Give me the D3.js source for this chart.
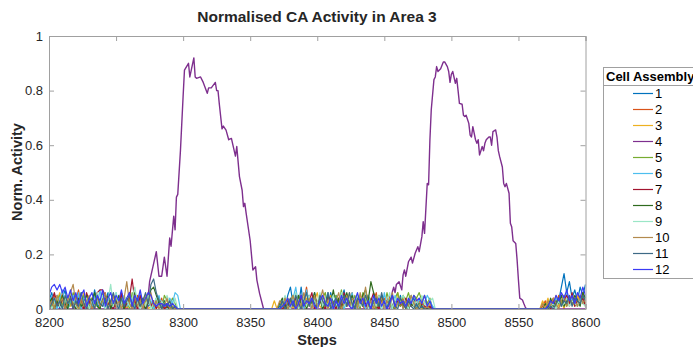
<!DOCTYPE html>
<html>
<head>
<meta charset="utf-8">
<script src="https://cdn.jsdelivr.net/npm/d3@7"></script>
<style>
  body { margin: 0; background: #fff; }
  svg { font-family: "Liberation Sans", Arial, Helvetica, sans-serif; }
</style>
</head>
<body>
<div id="chart"></div>
<script>
// noisy assemblies are active only inside these step windows (every 2 steps), 0 elsewhere
const windows = [[8200, 8298], [8366, 8488], [8568, 8600]];
const xTicks = [8200, 8250, 8300, 8350, 8400, 8450, 8500, 8550, 8600];
const yTicks = [0, 0.2, 0.4, 0.6, 0.8, 1];
const names = ["1", "2", "3", "4", "5", "6", "7", "8", "9", "10", "11", "12"];
const colors = ["#0072BD", "#D95319", "#EDB120", "#7E2F8E", "#77AC30", "#4DBEEE",
  "#A2142F", "#2F6B1E", "#9BE6C6", "#B38A4E", "#3D6A86", "#3A3AF5"];

// activity x100, one array per window
const ca1 = [
  [3,6,2,5,0, 4,7,1,3,0, 5,2,6,0,3, 4,1,7,2,0, 5,3,6,1,0, 4,2,5,3,0, 6,1,4,2,0, 3,5,1,2,0, 4,1,3,0,2, 1,0,0,0,0],
  [0,0,0,1, 3,0,5,8,2, 4,1,8,0,3, 5,2,6,0,4, 1,3,0,6,2, 5,0,3,7,1, 4,2,0,5,3, 1,6,2,0,4, 3,0,5,2,1, 4,0,3,2,5, 1,3,0,2,4, 1,2,0,1,0, 2,0,0],
  [0,0,1,3,2,4,3,8,13,6,10,4,7,3,8,5,9]];
const ca2 = [
  [2,0,5,3,1, 6,0,2,4,0, 3,7,1,0,5, 2,4,0,6,1, 3,0,4,2,5, 0,3,6,1,0, 4,2,0,5,3, 1,0,6,2,0, 3,1,4,0,2, 0,1,0,0,0],
  [0,0,0,0, 2,4,0,3,1, 5,2,0,3,8, 1,4,0,2,5, 3,0,6,1,2, 4,0,3,5,1, 2,6,0,3,4, 1,0,5,2,3, 6,0,2,4,1, 3,5,0,2,1, 4,0,3,1,2, 0,3,1,0,2, 0,0,0],
  [1,3,0,2,4,1,5,2,3,6,1,4,2,5,3,6,2]];
const ca3 = [
  [0,4,1,3,6, 2,0,5,1,3, 0,4,2,6,0, 1,3,0,5,2, 4,0,2,3,1, 5,0,3,2,0, 6,1,3,0,4, 2,5,0,1,3, 0,4,2,1,0, 3,0,1,0,0],
  [0,3,0,0, 1,0,4,2,0, 3,5,1,0,4, 2,0,3,6,1, 0,4,2,5,0, 3,1,0,4,2, 6,0,3,1,5, 2,0,4,3,0, 1,5,2,0,3, 4,1,0,6,2, 3,0,2,5,1, 4,2,0,3,1, 2,0,0],
  [3,1,4,0,2,5,1,3,0,4,2,3,1,5,2,3,1]];
const ca5 = [
  [4,1,0,3,5, 1,4,0,2,6, 3,0,1,5,2, 0,4,3,1,0, 6,2,0,3,1, 4,0,5,2,3, 0,6,1,2,4, 0,3,5,1,0, 2,4,0,5,3, 1,4,2,0,0],
  [0,0,0,0, 0,2,0,3,5, 1,0,4,2,6, 3,0,5,1,2, 4,6,0,3,1, 5,2,7,0,4, 3,1,5,2,0, 6,3,1,4,2, 0,5,3,1,6, 2,0,4,6,1, 5,3,6,2,5, 4,6,3,5,2, 4,0,0],
  [0,0,2,1,3,0,4,2,5,1,3,2,4,1,3,5,2]];
const ca6 = [
  [1,5,3,0,4, 7,2,0,3,5, 1,6,0,4,2, 3,0,5,1,7, 2,0,4,3,1, 6,2,0,5,1, 3,4,0,2,6, 1,0,4,3,0, 2,5,1,3,0, 4,2,6,5,0],
  [0,0,0,0, 1,3,0,2,4, 8,1,3,0,7, 2,0,4,1,5, 0,3,6,2,0, 4,1,5,0,3, 2,6,1,0,4, 3,0,5,2,1, 4,2,0,6,1, 3,0,5,2,4, 0,3,1,5,2, 0,4,1,2,5, 3,1,0],
  [0,0,0,2,1,4,2,5,3,6,2,4,3,1,4,2,5]];
const ca7 = [
  [0,3,6,2,1, 4,0,3,5,0, 2,1,4,0,6, 3,0,2,6,7, 7,5,2,1,0, 3,1,6,0,2, 4,11,3,0,5, 2,0,4,1,3, 0,2,3,0,1, 0,0,0,0,0],
  [0,0,0,0, 0,1,3,0,2, 4,0,5,2,1, 3,6,0,2,4, 1,0,5,3,2, 0,4,1,6,2, 3,0,2,5,1, 4,2,0,3,6, 1,0,4,2,3, 5,1,0,3,2, 1,4,0,2,1, 3,0,2,1,0, 1,0,0],
  [0,0,1,0,3,2,4,1,3,5,2,6,1,3,2,4,1]];
const ca8 = [
  [2,4,0,3,1, 5,2,0,6,3, 0,4,1,2,5, 0,3,6,1,0, 4,2,5,0,3, 1,5,2,0,4, 3,0,6,2,1, 4,0,3,7,8, 5,2,0,3,1, 0,2,0,0,0],
  [0,0,0,2, 4,1,0,3,2, 0,5,1,4,0, 3,2,6,1,4, 0,3,5,2,7, 1,4,0,3,6, 2,5,1,4,3, 5,7,3,10,6, 3,1,4,2,0, 3,1,0,2,4, 1,3,0,2,1, 0,2,1,0,0, 0,0,0],
  [0,2,0,4,1,3,2,5,1,3,4,2,5,3,1,6,4]];
const ca9 = [
  [3,0,2,5,1, 0,4,2,6,3, 1,0,5,2,4, 0,3,1,6,2, 5,0,3,9,1, 6,0,2,5,3, 1,4,8,2,0, 3,1,5,0,2, 4,0,3,1,5, 2,0,4,0,0],
  [0,0,0,0, 2,5,1,0,3, 6,0,2,4,1, 5,0,3,2,6, 1,4,0,3,5, 2,0,6,1,3, 4,0,2,5,1, 3,6,0,2,4, 1,5,0,3,2, 6,0,4,1,3, 5,2,0,4,1, 3,0,5,2,1, 3,4,0],
  [0,0,0,1,2,0,3,1,2,4,1,3,2,1,3,2,1]];
const ca10 = [
  [1,3,0,5,2, 4,0,3,6,9, 2,0,4,1,3, 5,0,2,4,1, 3,6,0,2,5, 1,3,0,4,10, 2,0,5,1,3, 0,4,2,6,1, 3,0,2,1,4, 0,1,0,0,0],
  [0,0,0,3, 1,4,0,2,5, 0,3,1,6,2, 4,0,5,1,3, 7,2,0,4,1, 3,6,0,2,5, 1,4,3,0,6, 2,8,1,3,0, 5,2,4,0,3, 1,6,0,2,4, 0,3,1,5,2, 0,1,3,0,1, 0,0,0],
  [2,0,3,1,4,2,0,3,5,1,4,2,3,1,5,2,4]];
const ca11 = [
  [0,2,4,1,3, 0,5,2,4,0, 3,1,6,2,0, 4,3,0,5,2, 1,4,0,3,6, 2,0,4,1,3, 5,2,0,4,1, 3,6,2,9,11, 6,3,0,2,1, 3,0,1,0,0],
  [0,0,0,0, 3,0,2,4,1, 5,2,0,3,6, 1,4,2,0,5, 3,1,6,0,2, 4,0,3,5,1, 6,2,0,4,3, 1,5,2,0,3, 4,1,6,2,0, 3,5,1,0,4, 2,0,3,1,0, 2,0,1,0,0, 0,0,0],
  [0,0,0,1,0,2,4,1,3,2,5,1,4,3,2,5,3]];
const ca12 = [
  [5,8,9,7,9, 6,8,4,7,3, 6,2,5,7,1, 4,6,2,5,3, 7,1,4,6,2, 5,3,7,2,4, 6,1,5,3,7, 2,4,6,5,2, 1,2,2,1,2, 1,2,1,0,0],
  [0,0,0,0, 1,2,4,1,3, 0,2,5,1,3, 2,4,1,0,3, 5,2,1,4,0, 3,1,5,2,4, 1,0,3,6,2, 4,1,3,0,5, 2,4,1,3,0, 2,5,1,4,2, 3,1,4,2,5, 3,4,2,5,1, 3,0,0],
  [0,0,1,3,2,5,3,6,4,7,3,5,2,6,4,8,5]];

// assembly 4: two activity bursts
const ca4Steps = [8200, 8273, 8275, 8280, 8282, 8284, 8286, 8288, 8290, 8291, 8293, 8294, 8295, 8296, 8298,
  8300, 8301, 8304, 8305, 8308, 8309, 8310, 8313, 8315, 8318, 8319, 8321, 8324, 8325, 8326, 8327, 8329,
  8330, 8332, 8334, 8336, 8339, 8340, 8342, 8344, 8345, 8346, 8347, 8350, 8352, 8354, 8355, 8357, 8360,
  8454, 8456, 8457, 8458, 8459, 8461, 8463, 8464, 8465, 8466, 8468, 8470, 8471, 8473, 8475, 8476, 8478,
  8479, 8480, 8482, 8483, 8484, 8485, 8487, 8488, 8489, 8490, 8492, 8494, 8495, 8497, 8498, 8499, 8500,
  8501, 8503, 8504, 8505, 8506, 8508, 8509, 8510, 8511, 8513, 8514, 8515, 8516, 8518, 8519, 8520, 8521,
  8523, 8524, 8525, 8526, 8528, 8529, 8530, 8531, 8533, 8534, 8535, 8536, 8538, 8539, 8540, 8541, 8543,
  8544, 8545, 8546, 8548, 8549, 8550, 8551, 8553, 8554, 8555, 8556, 8600];
const ca4Vals = [0, 0, 0.1, 0.21, 0.12, 0.12, 0.19, 0.12, 0.26, 0.23, 0.34, 0.29, 0.41, 0.42, 0.58,
  0.78, 0.875, 0.9, 0.85, 0.92, 0.85, 0.845, 0.85, 0.83, 0.79, 0.81, 0.81, 0.83, 0.80, 0.80, 0.75, 0.66,
  0.67, 0.655, 0.62, 0.625, 0.56, 0.595, 0.485, 0.435, 0.375, 0.387, 0.35, 0.25, 0.143, 0.155, 0.106, 0.057, 0,
  0, 0.063, 0.08, 0.06, 0.09, 0.1, 0.07, 0.125, 0.143, 0.12, 0.173, 0.19, 0.168, 0.204, 0.228, 0.21, 0.265,
  0.32, 0.277, 0.46, 0.455, 0.62, 0.73, 0.84, 0.85, 0.888, 0.87, 0.88, 0.905, 0.905, 0.888, 0.87, 0.83, 0.86,
  0.87, 0.827, 0.845, 0.80, 0.753, 0.75, 0.71, 0.705, 0.71, 0.68, 0.637, 0.63, 0.668, 0.62, 0.607, 0.62, 0.564,
  0.595, 0.58, 0.607, 0.62, 0.63, 0.63, 0.6, 0.65, 0.656, 0.63, 0.58, 0.558, 0.52, 0.46, 0.448, 0.46, 0.424,
  0.314, 0.30, 0.25, 0.24, 0.18, 0.106, 0.04, 0.033, 0.02, 0.008, 0, 0];

const W = 693, H = 347;
const m = { left: 49, right: 585.5, top: 36, bottom: 309 };

const svg = d3.select("#chart").append("svg").attr("width", W).attr("height", H);

const x = d3.scaleLinear().domain([8200, 8600]).range([m.left, m.right]);
const y = d3.scaleLinear().domain([0, 1]).range([m.bottom, m.top]);

function noisy(win) {
  // full 2-step grid, zero outside the windows
  const pts = [];
  d3.range(8200, 8601, 2).forEach(s => {
    let v = 0;
    windows.forEach((w, k) => {
      if (s >= w[0] && s <= w[1]) v = win[k][(s - w[0]) / 2] / 100;
    });
    pts.push([s, v]);
  });
  return pts;
}

const series = [ca1, ca2, ca3, null, ca5, ca6, ca7, ca8, ca9, ca10, ca11, ca12].map((d, i) =>
  d ? noisy(d) : ca4Steps.map((s, j) => [s, ca4Vals[j]]));

const line = d3.line().x(d => x(d[0])).y(d => y(d[1]));

svg.append("defs").append("clipPath").attr("id", "clip")
  .append("rect").attr("x", m.left).attr("y", m.top)
  .attr("width", m.right - m.left).attr("height", m.bottom - m.top + 2);

const plot = svg.append("g").attr("clip-path", "url(#clip)");
series.forEach((pts, i) => {
  plot.append("path").datum(pts)
    .attr("fill", "none")
    .attr("stroke", colors[i])
    .attr("stroke-width", i === 3 ? 1.4 : 1.2)
    .attr("stroke-linejoin", "round")
    .attr("d", line);
});

// axes box with inward ticks on all sides
const axisColor = "#a0a0a0";
const axBottom = svg.append("g").attr("transform", `translate(0,${m.bottom})`)
  .call(d3.axisBottom(x).tickValues(xTicks).tickSize(-5).tickPadding(9).tickFormat(d3.format("d")));
const axTop = svg.append("g").attr("transform", `translate(0,${m.top})`)
  .call(d3.axisTop(x).tickValues(xTicks).tickSize(-5).tickFormat(""));
const axLeft = svg.append("g").attr("transform", `translate(${m.left},0)`)
  .call(d3.axisLeft(y).tickValues(yTicks).tickSize(-5).tickPadding(6).tickFormat(d => d === 0 || d === 1 ? d : d3.format(".1f")(d)));
const axRight = svg.append("g").attr("transform", `translate(${m.right},0)`)
  .call(d3.axisRight(y).tickValues(yTicks).tickSize(-5).tickFormat(""));

[axBottom, axTop, axLeft, axRight].forEach(g => {
  g.select(".domain").attr("stroke", axisColor);
  g.selectAll(".tick line").attr("stroke", axisColor);
  g.selectAll(".tick text").attr("fill", "#262626").style("font-size", "13px");
});

svg.append("text").attr("x", 317).attr("y", 22).attr("text-anchor", "middle")
  .style("font-size", "15.5px").style("font-weight", "bold").attr("fill", "#262626")
  .text("Normalised CA Activity in Area 3");
svg.append("text").attr("x", 317).attr("y", 345).attr("text-anchor", "middle")
  .style("font-size", "14.5px").style("font-weight", "bold").attr("fill", "#262626")
  .text("Steps");
svg.append("text").attr("transform", "translate(22,172) rotate(-90)").attr("text-anchor", "middle")
  .style("font-size", "14.5px").style("font-weight", "bold").attr("fill", "#262626")
  .text("Norm. Activity");

// legend
const lg = svg.append("g");
lg.append("rect").attr("x", 603.5).attr("y", 67.5).attr("width", 120).attr("height", 211)
  .attr("fill", "#fff").attr("stroke", "#a0a0a0");
lg.append("line").attr("x1", 603.5).attr("x2", 700).attr("y1", 85.5).attr("y2", 85.5).attr("stroke", "#a0a0a0");
lg.append("text").attr("x", 606).attr("y", 81).style("font-size", "13px").style("font-weight", "bold")
  .attr("fill", "#000").text("Cell Assembly");
names.forEach((n, i) => {
  const yy = 93.5 + i * 16;
  lg.append("line").attr("x1", 633).attr("x2", 653).attr("y1", yy).attr("y2", yy)
    .attr("stroke", colors[i]).attr("stroke-width", 1.2);
  lg.append("text").attr("x", 655).attr("y", yy + 4.5).style("font-size", "13px")
    .attr("fill", "#000").text(n);
});
</script>
</body>
</html>
